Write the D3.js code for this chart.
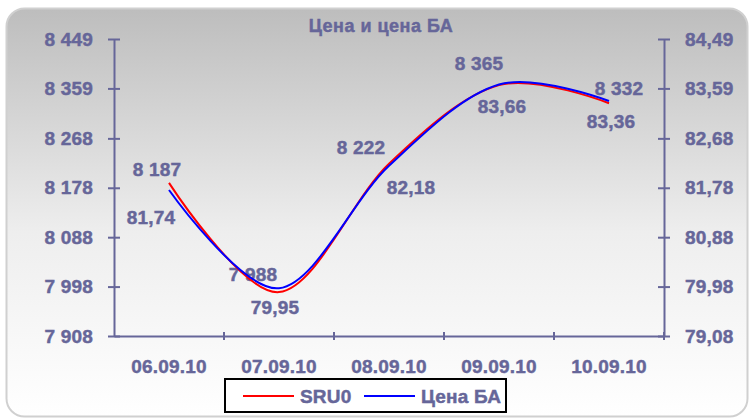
<!DOCTYPE html>
<html>
<head>
<meta charset="utf-8">
<script src="https://cdn.jsdelivr.net/npm/d3@7"></script>
<style>
  body { margin: 0; background: #fff; }
  text { font-family: "Liberation Sans", Arial, sans-serif; font-weight: bold; fill: #666699; stroke: #666699; stroke-width: 0.45px; }
</style>
</head>
<body>
<svg id="chart" width="750" height="418"></svg>
<script>
// chart data
const dates = ['06.09.10', '07.09.10', '08.09.10', '09.09.10', '10.09.10']
const sru0 = [8187, 7988, 8222, 8365, 8332]
const priceBA = [81.74, 79.95, 82.18, 83.66, 83.36]
const leftTicks = [7908, 7998, 8088, 8178, 8268, 8359, 8449]
const rightTicks = [79.08, 79.98, 80.88, 81.78, 82.68, 83.59, 84.49]

// where the data labels sit relative to their point (manually placed in the original)
const sruLabelShift = [[-12, -14], [-26, -18], [-28, -16], [-20, -22], [10, -15]]
const baLabelShift = [[-18, 27], [-4, 19], [22, 21], [3, 22], [2, 20]]

const ru = d3.formatLocale({ decimal: ',', thousands: ' ', grouping: [3], currency: ['', ''] })
const fmtInt = ru.format(',d')
const fmtDec = ru.format(',.2f')

const svg = d3.select('#chart')
const margin = { top: 39, right: 86, bottom: 82, left: 114 }
const width = 750 - margin.left - margin.right
const height = 418 - margin.top - margin.bottom

// background panel
const defs = svg.append('defs')
const grad = defs.append('linearGradient').attr('id', 'bg').attr('x1', 0).attr('y1', 0).attr('x2', 0).attr('y2', 1)
grad.append('stop').attr('offset', '0%').attr('stop-color', '#bdbdbd')
grad.append('stop').attr('offset', '55%').attr('stop-color', '#eeeeee')
grad.append('stop').attr('offset', '100%').attr('stop-color', '#ffffff')

svg.append('rect')
  .attr('x', 6.5).attr('y', 8.5).attr('width', 741).attr('height', 408)
  .attr('rx', 18)
  .attr('fill', 'url(#bg)')
  .attr('stroke', '#d0d0d0')
  .attr('stroke-width', 2)

const g = svg.append('g').attr('transform', 'translate(' + margin.left + ',' + margin.top + ')')

const x = d3.scaleBand().domain(dates).range([0, width])
const yL = d3.scaleLinear().domain([leftTicks[0], leftTicks[leftTicks.length - 1]]).range([height, 0])
const yR = d3.scaleLinear().domain([rightTicks[0], rightTicks[rightTicks.length - 1]]).range([height, 0])

const axisColor = '#666699'

// left axis
const axL = g.append('g')
  .call(d3.axisLeft(yL).tickValues(leftTicks).tickFormat(fmtInt).tickSizeInner(6).tickSizeOuter(0).tickPadding(15))
axL.select('.domain').attr('stroke', axisColor).attr('stroke-width', 2)
axL.selectAll('.tick line').attr('stroke', axisColor).attr('stroke-width', 2).attr('x2', 6).attr('x1', -6)

// right axis
const axR = g.append('g').attr('transform', 'translate(' + width + ',0)')
  .call(d3.axisRight(yR).tickValues(rightTicks).tickFormat(fmtDec).tickSizeInner(6).tickSizeOuter(0).tickPadding(15))
axR.select('.domain').attr('stroke', axisColor).attr('stroke-width', 2)
axR.selectAll('.tick line').attr('stroke', axisColor).attr('stroke-width', 2).attr('x1', -6).attr('x2', 6)

// bottom axis, ticks between categories
const axB = g.append('g').attr('transform', 'translate(0,' + height + ')')
  .call(d3.axisBottom(x).tickSize(0).tickPadding(24))
axB.select('.domain').attr('stroke', axisColor).attr('stroke-width', 2)
axB.selectAll('.tick').append('line')
  .attr('x1', x.bandwidth() / 2).attr('x2', x.bandwidth() / 2)
  .attr('y1', -4).attr('y2', 4)
  .attr('stroke', axisColor).attr('stroke-width', 2)

svg.selectAll('.tick text')
  .style('font-size', '19px')
  .style('letter-spacing', '0.2px')
  .attr('fill', axisColor)

// title
svg.append('text')
  .attr('x', 381).attr('y', 32)
  .attr('text-anchor', 'middle')
  .style('font-size', '18px')
  .style('letter-spacing', '0.5px')
  .text('Цена и цена БА')

const cx = d => x(d) + x.bandwidth() / 2

// data labels
g.selectAll('.lab-sru').data(sru0).enter().append('text')
  .attr('x', (d, i) => cx(dates[i]) + sruLabelShift[i][0])
  .attr('y', (d, i) => yL(d) + sruLabelShift[i][1])
  .attr('text-anchor', 'middle').attr('dy', '0.36em')
  .style('font-size', '19px').style('letter-spacing', '0.2px')
  .text(fmtInt)

g.selectAll('.lab-ba').data(priceBA).enter().append('text')
  .attr('x', (d, i) => cx(dates[i]) + baLabelShift[i][0])
  .attr('y', (d, i) => yR(d) + baLabelShift[i][1])
  .attr('text-anchor', 'middle').attr('dy', '0.36em')
  .style('font-size', '19px').style('letter-spacing', '0.2px')
  .text(fmtDec)

// lines
const lineL = d3.line().x((d, i) => cx(dates[i])).y(d => yL(d)).curve(d3.curveCardinal.tension(0))
const lineR = d3.line().x((d, i) => cx(dates[i])).y(d => yR(d)).curve(d3.curveCardinal.tension(0))

g.append('path').datum(sru0)
  .attr('d', lineL).attr('fill', 'none').attr('stroke', '#ff0000').attr('stroke-width', 2)
g.append('path').datum(priceBA)
  .attr('d', lineR).attr('fill', 'none').attr('stroke', '#0000ff').attr('stroke-width', 2)

// legend
const legend = svg.append('g')
legend.append('rect')
  .attr('x', 225).attr('y', 379).attr('width', 281).attr('height', 33)
  .attr('fill', '#fff').attr('stroke', '#000').attr('stroke-width', 2)
const items = [['SRU0', '#ff0000', 243], ['Цена БА', '#0000ff', 364]]
items.forEach(function(it) {
  legend.append('line')
    .attr('x1', it[2]).attr('x2', it[2] + 51).attr('y1', 396).attr('y2', 396)
    .attr('stroke', it[1]).attr('stroke-width', 2)
  legend.append('text')
    .attr('x', it[2] + 57).attr('y', 396).attr('dy', '0.36em')
    .style('font-size', '19px').style('letter-spacing', '0.2px')
    .text(it[0])
})
</script>
</body>
</html>
